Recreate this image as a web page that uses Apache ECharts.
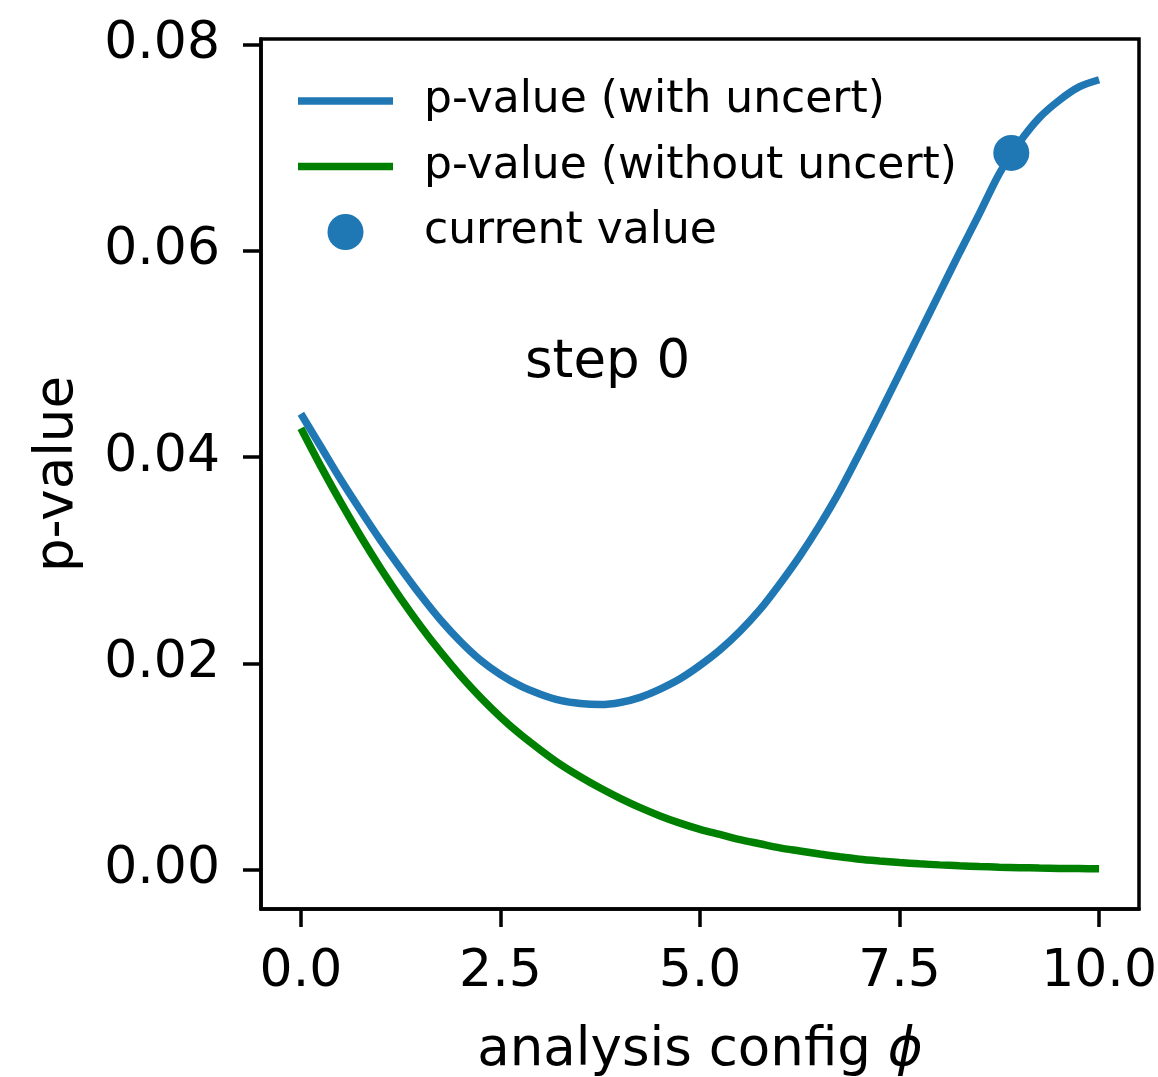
<!DOCTYPE html>
<html>
<head>
<meta charset="utf-8">
<script src="https://cdn.jsdelivr.net/npm/echarts@6/dist/echarts.min.js"></script>
<style>
  html, body { margin: 0; padding: 0; background: #fff; }
  #chart { width: 1158px; height: 1077px; }
</style>
</head>
<body>
<div id="chart"></div>
<script>
// analysis configuration phi, sampled every 0.25
const phi = [0, 0.25, 0.5, 0.75, 1, 1.25, 1.5, 1.75, 2, 2.25, 2.5, 2.75, 3, 3.25, 3.5, 3.75, 4, 4.25, 4.5, 4.75,
             5, 5.25, 5.5, 5.75, 6, 6.25, 6.5, 6.75, 7, 7.25, 7.5, 7.75, 8, 8.25, 8.5, 8.75, 9, 9.25, 9.5, 9.75, 10];
// p-value including the systematic uncertainty
const pWithUncert = [0.0442, 0.0410, 0.0378, 0.0348, 0.0319, 0.0292, 0.0266, 0.0242, 0.0221, 0.0203,
                     0.0189, 0.0178, 0.0170, 0.0164, 0.0161, 0.0160, 0.0162, 0.0167, 0.0175, 0.0185,
                     0.0198, 0.0213, 0.0231, 0.0252, 0.0277, 0.0304, 0.0334, 0.0367, 0.0404, 0.0442,
                     0.0481, 0.0520, 0.0559, 0.0598, 0.0636, 0.0675, 0.0705, 0.0729, 0.0746, 0.0759, 0.0766];
// p-value ignoring the uncertainty
const pWithoutUncert = [0.0428, 0.0391, 0.0356, 0.0323, 0.0292, 0.0263, 0.0236, 0.0211, 0.0188, 0.0167,
                        0.0148, 0.0131, 0.0116, 0.0102, 0.0090, 0.0079, 0.0069, 0.0060, 0.0052, 0.0045,
                        0.0039, 0.0034, 0.0029, 0.0025, 0.0021, 0.0018, 0.0015, 0.00123, 0.00100, 0.00083,
                        0.00068, 0.00055, 0.00045, 0.00036, 0.00029, 0.00023, 0.00018, 0.00014, 0.00011, 0.00009, 0.00007];
// current working point
const currentPhi = [8.9];
const currentP = [0.0695];

const xTicks = [0, 2.5, 5, 7.5, 10];
const yTicks = [0, 0.02, 0.04, 0.06, 0.08];
const stepLabel = 'step 0';

const FONT = '"DejaVu Sans", sans-serif';
const BLUE = '#1f77b4';
const GREEN = '#008000';
// flat bar used as the legend handle of the two curves
const LINE_ICON = 'path://M0,0 H95 V7.5 H0 Z';

const chart = echarts.init(document.getElementById('chart'), null, { renderer: 'canvas' });

const zip = (xs, ys) => xs.map((x, i) => [x, ys[i]]);

chart.setOption({
  animation: false,
  backgroundColor: '#fff',
  grid: {
    left: 261, top: 39, width: 878, height: 870,
    outerBoundsMode: 'none', containLabel: false,
    show: true, borderColor: '#000', borderWidth: 3.5, backgroundColor: 'transparent'
  },
  xAxis: {
    type: 'value', min: -0.5, max: 10.5,
    splitLine: { show: false },
    axisLine: { show: true, onZero: false, lineStyle: { color: '#000', width: 3.5 } },
    axisTick: { show: true, inside: false, length: 18, lineStyle: { color: '#000', width: 3.5 }, customValues: xTicks },
    axisLabel: {
      customValues: xTicks, margin: 37, color: '#000', fontFamily: FONT, fontSize: 52,
      formatter: v => v.toFixed(1)
    },
    name: 'analysis config {phi|\u03D5}', nameLocation: 'middle', nameGap: 116,
    nameTextStyle: {
      color: '#000', fontFamily: FONT, fontSize: 53,
      rich: { phi: { fontFamily: FONT, fontSize: 53, fontStyle: 'italic', color: '#000' } }
    }
  },
  yAxis: {
    type: 'value', min: -0.00383, max: 0.08055,
    splitLine: { show: false },
    axisLine: { show: true, onZero: false, lineStyle: { color: '#000', width: 3.5 } },
    axisTick: { show: true, inside: false, length: 18, lineStyle: { color: '#000', width: 3.5 }, customValues: yTicks },
    axisLabel: {
      customValues: yTicks, margin: 41, color: '#000', fontFamily: FONT, fontSize: 52,
      formatter: v => v.toFixed(2)
    },
    name: 'p-value', nameLocation: 'middle', nameGap: 176, nameRotate: 90,
    nameTextStyle: { color: '#000', fontFamily: FONT, fontSize: 53 }
  },
  legend: {
    orient: 'vertical', left: 298, top: 79, padding: 0,
    itemWidth: 95, itemHeight: 36, itemGap: 21.5,
    textStyle: { color: '#000', fontFamily: FONT, fontSize: 44, lineHeight: 44, padding: [0, 0, 0, 26] },
    data: [
      { name: 'p-value (with uncert)', icon: LINE_ICON },
      { name: 'p-value (without uncert)', icon: LINE_ICON },
      { name: 'current value', icon: 'circle' }
    ]
  },
  graphic: [{
    type: 'text', left: 525, top: 337,
    style: { text: stepLabel, fill: '#000', font: '53px "DejaVu Sans", sans-serif' }
  }],
  series: [
    {
      name: 'p-value (with uncert)', type: 'line', data: zip(phi, pWithUncert),
      smooth: 0.3, symbol: 'none', clip: false,
      lineStyle: { color: BLUE, width: 7.5 }, itemStyle: { color: BLUE }
    },
    {
      name: 'p-value (without uncert)', type: 'line', data: zip(phi, pWithoutUncert),
      smooth: 0.3, symbol: 'none', clip: false,
      lineStyle: { color: GREEN, width: 7.5 }, itemStyle: { color: GREEN }
    },
    {
      name: 'current value', type: 'scatter', data: zip(currentPhi, currentP),
      symbol: 'circle', symbolSize: 36, itemStyle: { color: BLUE, opacity: 1 }, z: 5
    }
  ]
});
</script>
</body>
</html>
